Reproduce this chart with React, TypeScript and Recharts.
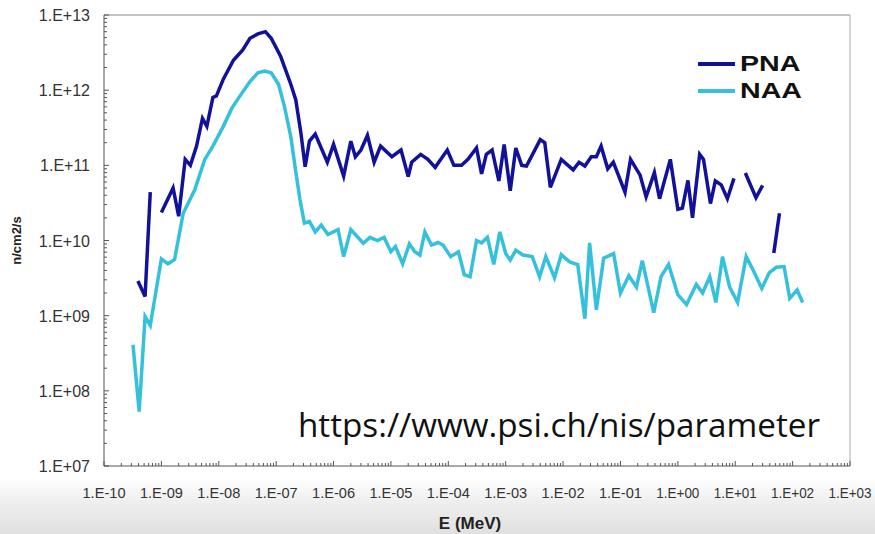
import { Legend, Line, LineChart, ReferenceLine, XAxis, YAxis } from "recharts";

// energies in MeV, flux in n/cm2/s; null marks a break in the curve
const PNA_E = [
  3.9e-10, 5.2e-10, 6.4e-10, 8e-10, 1.0e-9, 1.6e-9, 2.0e-9, 2.6e-9, 3.2e-9, 4.1e-9,
  5.2e-9, 6.2e-9, 7.9e-9, 9.1e-9, 1.2e-8, 1.8e-8, 2.6e-8, 3.5e-8, 4.8e-8, 6.5e-8,
  8.2e-8, 1.2e-7, 1.8e-7, 2.2e-7, 2.7e-7, 3.2e-7, 3.8e-7, 4.8e-7, 6.1e-7, 7.8e-7,
  1.0e-6, 1.5e-6, 2.0e-6, 2.4e-6, 3.0e-6, 3.9e-6, 5.1e-6, 6.6e-6, 1.04e-5, 1.5e-5,
  2.0e-5, 2.3e-5, 3.3e-5, 4.4e-5, 5.9e-5, 9.6e-5, 1.25e-4, 1.7e-4, 2.2e-4, 3.1e-4,
  3.8e-4, 4.6e-4, 5.8e-4, 7.6e-4, 9.4e-4, 1.2e-3, 1.5e-3, 1.9e-3, 2.3e-3, 4.0e-3,
  4.8e-3, 6.0e-3, 9.3e-3, 1.5e-2, 1.9e-2, 2.4e-2, 3.1e-2, 3.8e-2, 4.6e-2, 6.0e-2,
  7.5e-2, 0.12, 0.15, 0.22, 0.28, 0.39, 0.48, 0.74, 1.0, 1.2,
  1.5, 1.8, 2.4, 2.8, 3.7, 4.5, 5.7, 7.3, 9.5, 12,
  15, 23, 30, 38, 47, 59,
];
const PNA_FLUX = [
  2.9e9, 1.8e9, 4.4e10, null, 2.35e10, 5.0e10, 2.1e10, 1.2e11, 1.0e11, 1.8e11,
  4.2e11, 3.3e11, 8.0e11, 8.4e11, 1.4e12, 2.5e12, 3.4e12, 4.9e12, 5.6e12, 6.0e12,
  4.9e12, 2.8e12, 1.2e12, 7.4e11, 2.7e11, 9.6e10, 2.1e11, 2.6e11, 1.7e11, 1.1e11,
  1.9e11, 7.2e10, 2.1e11, 1.3e11, 1.6e11, 2.5e11, 1.1e11, 1.8e11, 1.3e11, 1.6e11,
  7.1e10, 1.1e11, 1.4e11, 1.2e11, 9.4e10, 1.6e11, 1.0e11, 1.0e11, 1.2e11, 1.7e11,
  7.7e10, 1.4e11, 1.6e11, 6.2e10, 1.9e11, 4.6e10, 1.7e11, 1.0e11, 9.8e10, 2.2e11,
  2.0e11, 5.1e10, 1.2e11, 8.7e10, 1.1e11, 9.8e10, 1.3e11, 1.3e11, 1.8e11, 9.0e10,
  1.1e11, 4.4e10, 1.2e11, 7.4e10, 3.8e10, 8.0e10, 3.6e10, 1.2e11, 2.6e10, 2.7e10,
  6.3e10, 2.0e10, 1.4e11, 1.2e11, 3.1e10, 6.2e10, 5.5e10, 3.6e10, 6.7e10, null,
  7.9e10, 3.7e10, 5.4e10, null, 6.8e9, 2.3e10,
];

const NAA_E = [
  3.2e-10, 4.1e-10, 5.2e-10, 6.4e-10, 1.0e-9, 1.3e-9, 1.7e-9, 2.4e-9, 3.8e-9, 5.7e-9,
  7.9e-9, 1.2e-8, 1.7e-8, 2.3e-8, 3.5e-8, 4.8e-8, 6.3e-8, 8.2e-8, 1.1e-7, 1.4e-7,
  1.8e-7, 2.2e-7, 2.6e-7, 3.1e-7, 3.8e-7, 4.8e-7, 6.1e-7, 8.0e-7, 1.2e-6, 1.5e-6,
  2.0e-6, 3.3e-6, 4.3e-6, 5.8e-6, 7.6e-6, 1.0e-5, 1.2e-5, 1.6e-5, 2.1e-5, 2.6e-5,
  3.2e-5, 3.9e-5, 5.1e-5, 6.6e-5, 8.1e-5, 1.1e-4, 1.5e-4, 1.9e-4, 2.4e-4, 3.1e-4,
  3.8e-4, 4.8e-4, 6.2e-4, 7.9e-4, 1.0e-3, 1.2e-3, 1.5e-3, 2.0e-3, 2.9e-3, 3.9e-3,
  5.0e-3, 7.1e-3, 9.3e-3, 1.3e-2, 1.8e-2, 2.4e-2, 2.9e-2, 3.8e-2, 5.1e-2, 7.6e-2,
  0.10, 0.14, 0.19, 0.24, 0.38, 0.51, 0.69, 1.0, 1.42, 1.6,
  2.1, 2.7, 3.6, 4.6, 6.0, 8.0, 11, 15.5, 20, 29,
  39, 52, 71, 89, 120, 150,
];
const NAA_FLUX = [
  4.1e8, 5.3e7, 9.7e8, 7.4e8, 5.7e9, 4.9e9, 5.6e9, 2.3e10, 4.7e10, 1.2e11,
  1.8e11, 3.3e11, 5.8e11, 8.2e11, 1.3e12, 1.7e12, 1.8e12, 1.7e12, 1.2e12, 6.0e11,
  2.4e11, 8.2e10, 3.5e10, 1.7e10, 1.8e10, 1.3e10, 1.6e10, 1.2e10, 1.4e10, 6.1e9,
  1.4e10, 9.2e9, 1.1e10, 1.0e10, 1.1e10, 7.1e9, 8.3e9, 4.9e9, 9.0e9, 7.1e9,
  6.4e9, 1.3e10, 8.7e9, 9.4e9, 8.7e9, 6.1e9, 7.1e9, 3.5e9, 3.3e9, 1.0e10,
  9.3e9, 1.1e10, 4.8e9, 1.3e10, 6.7e9, 5.5e9, 7.4e9, 6.4e9, 6.1e9, 3.3e9,
  6.1e9, 3.2e9, 6.5e9, 5.2e9, 4.8e9, 9.1e8, 9.3e9, 1.2e9, 5.8e9, 6.7e9,
  2.0e9, 3.4e9, 2.4e9, 5.4e9, 1.1e9, 3.3e9, 4.8e9, 1.9e9, 1.4e9, 1.7e9,
  2.6e9, 2.0e9, 3.3e9, 1.5e9, 6.1e9, 2.4e9, 1.5e9, 6.1e9, 4.2e9, 2.3e9,
  3.7e9, 4.4e9, 4.5e9, 1.7e9, 2.2e9, 1.5e9,
];

const E_DECADES = [-10, 3];
const FLUX_DECADES = [7, 13];
const SERIES_ORDER = ["PNA", "NAA"];

const PNA_COLOR = "#11119a";
const NAA_COLOR = "#35c1dc";

const pna = PNA_E.map((e, i) => ({ e, v: PNA_FLUX[i] }));
const naa = NAA_E.map((e, i) => ({ e, v: NAA_FLUX[i] }));

function logTicks([from, to]: number[]) {
  const out: number[] = [];
  for (let k = from; k < to; k++) {
    for (let m = 1; m < 10; m++) out.push(m * 10 ** k);
  }
  out.push(10 ** to);
  return out;
}

function isDecade(v: number) {
  const l = Math.log10(v);
  return Math.abs(l - Math.round(l)) < 1e-9;
}

function expLabel(v: number) {
  const e = Math.round(Math.log10(v));
  return `1.E${e < 0 ? "-" : "+"}${String(Math.abs(e)).padStart(2, "0")}`;
}

const FONT = '"Liberation Sans", Arial, sans-serif';
const AXIS = "#555";

function XTick({ x, y, payload }: any) {
  const major = isDecade(payload.value);
  return (
    <g>
      <line x1={x} x2={x} y1={y} y2={y - (major ? 5 : 3)} stroke={AXIS} />
      {major && (
        <text
          x={x}
          y={y + 32}
          textAnchor="middle"
          fontSize={15}
          fill="#333"
          fontFamily={FONT}
          textLength={43}
          lengthAdjust="spacingAndGlyphs"
        >
          {expLabel(payload.value)}
        </text>
      )}
    </g>
  );
}

function YTick({ x, y, payload }: any) {
  const major = isDecade(payload.value);
  return (
    <g>
      <line x1={x} x2={x + (major ? 5 : 3)} y1={y} y2={y} stroke={AXIS} />
      {major && (
        <text x={x - 14} y={y + 6} textAnchor="end" fontSize={16} fill="#333" fontFamily={FONT}>
          {expLabel(payload.value)}
        </text>
      )}
    </g>
  );
}

function LegendBox({ payload }: any) {
  const items = [...(payload || [])].sort(
    (a: any, b: any) => SERIES_ORDER.indexOf(a.value) - SERIES_ORDER.indexOf(b.value)
  );
  return (
    <div style={{ fontFamily: FONT, fontWeight: 700, color: "#111" }}>
      {items.map((p: any) => (
        <div key={p.value} style={{ display: "flex", alignItems: "center", height: 27 }}>
          <span style={{ width: 37, height: 4, background: p.color, marginRight: 5 }} />
          <span
            style={{
              fontSize: 22,
              display: "inline-block",
              transform: "scaleX(1.3)",
              transformOrigin: "left center",
            }}
          >
            {p.value}
          </span>
        </div>
      ))}
    </div>
  );
}

export default function App() {
  return (
    <div
      style={{
        position: "fixed",
        left: 0,
        top: 0,
        width: 875,
        height: 534,
        background:
          "linear-gradient(to bottom, #fff 0px, #fff 478px, #f0f0f0 500px, #e0e0e0 534px)",
      }}
    >
      <LineChart
        width={875}
        height={534}
        margin={{ top: 15, right: 25, left: 44, bottom: 38 }}
      >
        <XAxis
          dataKey="e"
          type="number"
          scale="log"
          domain={[10 ** E_DECADES[0], 10 ** E_DECADES[1]]}
          allowDataOverflow
          ticks={logTicks(E_DECADES)}
          interval={0}
          height={30}
          tickSize={0}
          tickMargin={0}
          tickLine={false}
          tick={XTick}
          axisLine={{ stroke: AXIS }}
          label={{
            content: ({ viewBox }: any) => (
              <text
                x={viewBox.x + viewBox.width / 2 - 7}
                y={viewBox.y + 63}
                textAnchor="middle"
                fontSize={17}
                fontWeight={700}
                fill="#222"
                fontFamily={FONT}
              >
                E (MeV)
              </text>
            ),
          }}
        />
        <YAxis
          type="number"
          scale="log"
          domain={[10 ** FLUX_DECADES[0], 10 ** FLUX_DECADES[1]]}
          allowDataOverflow
          ticks={logTicks(FLUX_DECADES)}
          interval={0}
          width={60}
          tickSize={0}
          tickMargin={0}
          tickLine={false}
          tick={YTick}
          axisLine={{ stroke: AXIS }}
          label={{
            content: ({ viewBox }: any) => (
              <text
                transform={`translate(21, ${viewBox.y + viewBox.height / 2}) rotate(-90)`}
                textAnchor="middle"
                fontSize={13}
                fontWeight={700}
                fill="#222"
                fontFamily={FONT}
              >
                n/cm2/s
              </text>
            ),
          }}
        />
        <ReferenceLine y={10 ** FLUX_DECADES[1]} stroke="#8a8a8a" />
        <ReferenceLine x={10 ** E_DECADES[1]} stroke="#a8a8a8" />
        <Legend
          layout="vertical"
          align="center"
          verticalAlign="middle"
          content={<LegendBox />}
          wrapperStyle={{ left: 698, top: 50, width: 130, height: 56 }}
        />
        <Line
          data={pna}
          dataKey="v"
          name="PNA"
          type="linear"
          stroke={PNA_COLOR}
          strokeWidth={3.5}
          dot={false}
          connectNulls={false}
          isAnimationActive={false}
        />
        <Line
          data={naa}
          dataKey="v"
          name="NAA"
          type="linear"
          stroke={NAA_COLOR}
          strokeWidth={3.5}
          dot={false}
          connectNulls={false}
          isAnimationActive={false}
        />
      </LineChart>
      <svg
        width={875}
        height={534}
        style={{ position: "absolute", left: 0, top: 0, pointerEvents: "none" }}
      >
        <text
          x={298}
          y={437}
          fontSize={33}
          fill="#111"
          fontFamily='"Open Sans", sans-serif'
          textLength={522}
          lengthAdjust="spacingAndGlyphs"
        >
          https://www.psi.ch/nis/parameter
        </text>
      </svg>
    </div>
  );
}
